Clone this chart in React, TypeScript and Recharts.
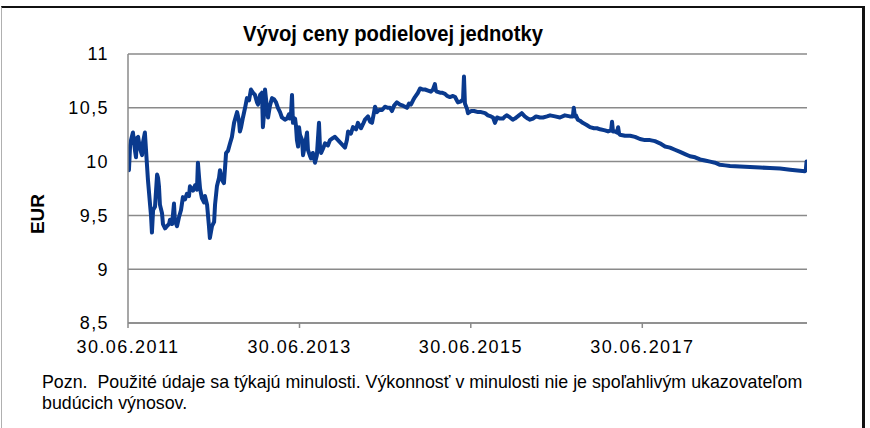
import React from 'react';
import { LineChart, Line, XAxis, YAxis, CartesianGrid } from 'recharts';

const chartTitle = 'Vývoj ceny podielovej jednotky';
const yAxisTitle = 'EUR';
const footnoteLine1 = 'Pozn.  Použité údaje sa týkajú minulosti. Výkonnosť v minulosti nie je spoľahlivým ukazovateľom';
const footnoteLine2 = 'budúcich výnosov.';

const xTickDates = ['2011-06-30', '2013-06-30', '2015-06-30', '2017-06-30'];
const xTickLabels = ['30.06.2011', '30.06.2013', '30.06.2015', '30.06.2017'];
const xDomain = ['2011-06-30', '2019-06-02'];
const yTicks = [8.5, 9, 9.5, 10, 10.5, 11];

const dates = [
  '2011-06-30','2011-07-04','2011-07-09','2011-07-13','2011-07-21','2011-07-30','2011-08-03','2011-08-07','2011-08-12','2011-08-20',
  '2011-08-29','2011-09-02','2011-09-10','2011-09-15','2011-09-23','2011-10-02','2011-10-06','2011-10-10','2011-10-15','2011-10-23',
  '2011-11-01','2011-11-05','2011-11-09','2011-11-13','2011-11-22','2011-11-26','2011-12-05','2011-12-13','2011-12-22','2011-12-26',
  '2012-01-04','2012-01-12','2012-01-16','2012-01-25','2012-02-02','2012-02-11','2012-02-19','2012-02-28','2012-03-07','2012-03-16',
  '2012-03-20','2012-04-02','2012-04-11','2012-04-19','2012-04-23','2012-04-28','2012-05-02','2012-05-10','2012-05-19','2012-05-23',
  '2012-06-01','2012-06-09','2012-06-13','2012-06-22','2012-07-01','2012-07-05','2012-07-13','2012-07-22','2012-07-26','2012-08-04',
  '2012-08-12','2012-08-21','2012-08-29','2012-09-07','2012-09-15','2012-09-24','2012-10-07','2012-10-15','2012-10-19','2012-10-24',
  '2012-11-01','2012-11-10','2012-11-18','2012-11-27','2012-12-05','2012-12-14','2012-12-22','2012-12-31','2013-01-04','2013-01-13',
  '2013-01-21','2013-01-25','2013-01-30','2013-02-03','2013-02-11','2013-02-16','2013-02-24','2013-03-05','2013-03-13','2013-03-22',
  '2013-03-30','2013-04-08','2013-04-16','2013-04-29','2013-05-08','2013-05-16','2013-05-20','2013-05-25','2013-05-29','2013-06-02',
  '2013-06-11','2013-06-15','2013-06-19','2013-06-24','2013-06-28','2013-07-02','2013-07-11','2013-07-15','2013-07-23','2013-08-01',
  '2013-08-05','2013-08-14','2013-08-18','2013-08-26','2013-09-04','2013-09-12','2013-09-21','2013-09-25','2013-09-30','2013-10-08',
  '2013-10-17','2013-10-29','2013-11-07','2013-11-20','2013-11-28','2013-12-11','2013-12-24','2014-01-10','2014-01-18','2014-01-23',
  '2014-02-04','2014-02-13','2014-02-26','2014-03-06','2014-03-19','2014-03-28','2014-04-05','2014-04-18','2014-04-27','2014-05-05',
  '2014-05-13','2014-05-18','2014-05-26','2014-06-04','2014-06-17','2014-06-29','2014-07-12','2014-07-21','2014-07-29','2014-08-07',
  '2014-08-19','2014-09-01','2014-09-14','2014-10-01','2014-10-10','2014-10-18','2014-10-27','2014-11-04','2014-11-17','2014-11-26',
  '2014-12-08','2014-12-17','2014-12-30','2015-01-11','2015-01-20','2015-01-28','2015-02-01','2015-02-06','2015-02-19','2015-02-27',
  '2015-03-12','2015-03-21','2015-04-02','2015-04-15','2015-04-24','2015-05-06','2015-05-19','2015-05-28','2015-06-01','2015-06-05',
  '2015-06-14','2015-06-18','2015-07-01','2015-07-14','2015-07-31','2015-08-13','2015-08-30','2015-09-11','2015-09-24','2015-10-03',
  '2015-10-11','2015-10-20','2015-11-01','2015-11-14','2015-11-23','2015-12-01','2015-12-14','2015-12-26','2016-01-04','2016-01-16',
  '2016-02-02','2016-02-15','2016-02-28','2016-03-08','2016-03-21','2016-04-03','2016-04-20','2016-05-03','2016-05-20','2016-06-02',
  '2016-06-23','2016-07-14','2016-08-04','2016-08-25','2016-09-07','2016-09-11','2016-09-16','2016-09-20','2016-09-28','2016-10-07',
  '2016-10-19','2016-11-05','2016-11-19','2016-12-06','2016-12-19','2017-01-01','2017-01-22','2017-02-04','2017-02-17','2017-02-21',
  '2017-02-25','2017-03-06','2017-03-14','2017-03-19','2017-03-23','2017-03-27','2017-04-17','2017-05-09','2017-05-30','2017-06-20',
  '2017-07-11','2017-08-02','2017-08-23','2017-09-13','2017-10-05','2017-10-26','2017-11-16','2017-12-08','2017-12-29','2018-01-19',
  '2018-02-10','2018-03-03','2018-03-24','2018-04-15','2018-05-06','2018-05-27','2018-06-18','2018-07-09','2018-08-20','2018-10-02',
  '2018-11-14','2018-12-26','2019-02-07','2019-03-22','2019-05-03','2019-05-24','2019-05-28','2019-05-31',
];

const prices = [
  10.00, 9.92, 10.15, 10.20, 10.27, 10.10, 10.04, 10.22, 10.23, 10.12,
  10.06, 10.18, 10.27, 10.10, 9.83, 9.60, 9.50, 9.34, 9.55, 9.58,
  9.88, 9.85, 9.77, 9.60, 9.52, 9.42, 9.38, 9.40, 9.42, 9.46,
  9.42, 9.61, 9.45, 9.40, 9.48, 9.55, 9.67, 9.65, 9.70, 9.68,
  9.77, 9.73, 9.78, 9.74, 9.99, 9.85, 9.75, 9.66, 9.62, 9.68,
  9.60, 9.40, 9.29, 9.40, 9.44, 9.60, 9.77, 9.85, 9.92, 9.83,
  9.80, 10.08, 10.10, 10.17, 10.23, 10.36, 10.46, 10.38, 10.28, 10.32,
  10.41, 10.50, 10.59, 10.57, 10.67, 10.64, 10.62, 10.55, 10.53, 10.62,
  10.64, 10.32, 10.45, 10.67, 10.50, 10.41, 10.52, 10.59, 10.58, 10.55,
  10.50, 10.46, 10.41, 10.39, 10.40, 10.44, 10.40, 10.45, 10.62, 10.36,
  10.40, 10.33, 10.20, 10.14, 10.32, 10.25, 10.20, 10.06, 10.15, 10.27,
  10.11, 10.05, 10.03, 10.08, 9.99, 10.06, 10.36, 10.15, 10.08, 10.12,
  10.17, 10.15, 10.20, 10.22, 10.23, 10.20, 10.17, 10.13, 10.20, 10.28,
  10.26, 10.32, 10.30, 10.36, 10.31, 10.35, 10.39, 10.42, 10.37, 10.36,
  10.45, 10.51, 10.46, 10.48, 10.48, 10.51, 10.50, 10.50, 10.47, 10.52,
  10.55, 10.53, 10.52, 10.50, 10.54, 10.53, 10.57, 10.60, 10.64, 10.68,
  10.67, 10.67, 10.66, 10.65, 10.67, 10.72, 10.66, 10.65, 10.64, 10.64,
  10.63, 10.61, 10.60, 10.61, 10.60, 10.55, 10.56, 10.58, 10.79, 10.54,
  10.49, 10.45, 10.47, 10.47, 10.46, 10.46, 10.45, 10.43, 10.42, 10.41,
  10.36, 10.41, 10.40, 10.40, 10.42, 10.43, 10.41, 10.39, 10.40, 10.42,
  10.45, 10.42, 10.40, 10.39, 10.40, 10.42, 10.41, 10.41, 10.42, 10.43,
  10.42, 10.41, 10.43, 10.42, 10.42, 10.50, 10.42, 10.43, 10.39, 10.38,
  10.36, 10.34, 10.32, 10.31, 10.31, 10.30, 10.29, 10.28, 10.29, 10.37,
  10.28, 10.28, 10.27, 10.32, 10.26, 10.25, 10.24, 10.24, 10.23, 10.21,
  10.20, 10.20, 10.19, 10.17, 10.14, 10.13, 10.11, 10.09, 10.07, 10.05,
  10.04, 10.02, 10.01, 10.00, 9.99, 9.97, 9.965, 9.96, 9.955, 9.95,
  9.945, 9.94, 9.935, 9.925, 9.915, 9.91, 9.92, 10.00,
];

const data = dates.map((d, i) => ({ t: Date.parse(d), v: prices[i] }));
const xTicks = xTickDates.map((d) => Date.parse(d));
const fmtX = (t: number) => {
  const i = xTicks.indexOf(t);
  return i >= 0 ? xTickLabels[i] : '';
};
const fmtY = (v: number) => String(v).replace('.', ',');

const sans = '"Liberation Sans", Arial, sans-serif';
const tickFont = { fill: '#000', fontSize: 18, fontFamily: sans, letterSpacing: 1.4 };

export default function App() {
  return (
    <div style={{ position: 'absolute', left: 0, top: 0, width: 870, height: 428, background: '#fff', overflow: 'hidden' }}>
      <div style={{ position: 'absolute', left: 1, top: 6, width: 860, height: 440, borderTop: '2px solid #111', borderRight: '3px solid #111', borderLeft: '1px solid #b0b0b0' }} />
      <div style={{ position: 'absolute', left: 0, top: 22, width: 786, textAlign: 'center', fontFamily: sans, fontWeight: 'bold', fontSize: 21.5, lineHeight: '24px', color: '#000', transform: 'scaleX(0.94)', transformOrigin: '393px 0' }}>
        {chartTitle}
      </div>
      <div style={{ position: 'absolute', left: 38, top: 214, transform: 'translate(-50%, -50%) rotate(-90deg)', fontFamily: sans, fontWeight: 'bold', fontSize: 19, whiteSpace: 'nowrap', color: '#000' }}>
        {yAxisTitle}
      </div>
      <LineChart width={870} height={428} data={data} margin={{ top: 54, right: 63, bottom: 65, left: 0 }} style={{ position: 'absolute', left: 0, top: 0 }}>
        <CartesianGrid vertical={false} stroke="#8a8a8a" strokeWidth={1.5} />
        <XAxis
          dataKey="t"
          type="number"
          scale="linear"
          domain={[Date.parse(xDomain[0]), Date.parse(xDomain[1])]}
          ticks={xTicks}
          tickFormatter={fmtX}
          height={40}
          axisLine={{ stroke: '#8a8a8a', strokeWidth: 1.5 }}
          tickLine={{ stroke: '#8a8a8a', strokeWidth: 1.5 }}
          tickSize={5}
          tickMargin={12}
          tick={tickFont}
          interval={0}
          allowDataOverflow
        />
        <YAxis
          type="number"
          domain={[8.5, 11]}
          ticks={yTicks}
          tickFormatter={fmtY}
          width={128}
          axisLine={{ stroke: '#8a8a8a', strokeWidth: 1.5 }}
          tickLine={false}
          tickSize={0}
          tickMargin={19}
          tick={tickFont}
          interval={0}
        />
        <Line type="linear" dataKey="v" stroke="#0a3a8e" strokeWidth={4} dot={false} isAnimationActive={false} strokeLinejoin="round" strokeLinecap="round" />
      </LineChart>
      <div style={{ position: 'absolute', left: 42, top: 371, fontFamily: sans, fontSize: 19, lineHeight: '21px', whiteSpace: 'pre', color: '#000', transform: 'scaleX(0.937)', transformOrigin: '0 0' }}>
        {footnoteLine1 + '\n' + footnoteLine2}
      </div>
    </div>
  );
}
